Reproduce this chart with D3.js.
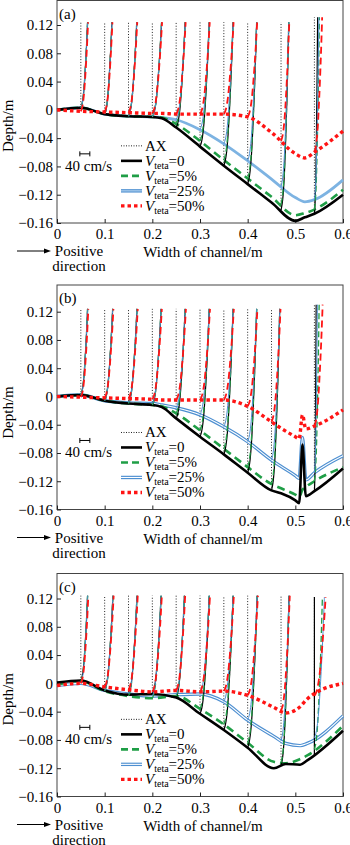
<!DOCTYPE html>
<html>
<head>
<meta charset="utf-8">
<script src="https://cdn.jsdelivr.net/npm/d3@7"></script>
<style>
  body { margin: 0; background: #fff; }
  svg, svg text { font-family: "Liberation Serif", "DejaVu Serif", "Times New Roman", serif; }
  svg { display: block; }
</style>
</head>
<body>
<svg id="chart" width="350" height="845"></svg>
<script>
// ---- data ----
const seriesNames = ['0', '5%', '25%', '50%'];
const xTicks = [0, 0.1, 0.2, 0.3, 0.4, 0.5, 0.6];
const xTickLabels = ['0', '0.1', '0.2', '0.3', '0.4', '0.5', '0.6'];
const yTicks = [-0.16, -0.12, -0.08, -0.04, 0, 0.04, 0.08, 0.12];
const yTickLabels = ['\u22120.16', '\u22120.12', '\u22120.08', '\u22120.04', '0', '0.04', '0.08', '0.12'];

// velocity profile shape (fraction of height above bed -> fraction of top speed)
const profileZ = [0, 0.03, 0.08, 0.18, 0.4, 0.7, 1];
const profileU = [0, 0.14, 0.27, 0.42, 0.62, 0.83, 1];

// panel (a)
const bedXA = [0, 0.05, 0.1, 0.15, 0.2, 0.22, 0.25, 0.3, 0.35, 0.4, 0.45, 0.5, 0.52, 0.54, 0.6];
const bedBlackA = [0, 0.003, -0.006, -0.009, -0.01, -0.012, -0.025, -0.052, -0.079, -0.105, -0.131, -0.157, -0.152, -0.147, -0.12];
const bedGreenA = [0, 0.003, -0.006, -0.009, -0.01, -0.011, -0.02, -0.044, -0.071, -0.097, -0.123, -0.149, -0.146, -0.141, -0.113];
const bedBlueA = [0, 0.003, -0.006, -0.009, -0.01, -0.011, -0.014, -0.028, -0.048, -0.072, -0.098, -0.124, -0.13, -0.127, -0.099];
const bedRedA = [0, -0.002, -0.003, -0.004, -0.005, -0.005, -0.006, -0.006, -0.006, -0.01, -0.032, -0.062, -0.068, -0.06, -0.03];
const stationsA = [0.05, 0.1, 0.15, 0.2, 0.25, 0.3, 0.35, 0.4, 0.47, 0.54];
const profileTopA = [0.124, 0.124, 0.124, 0.124, 0.124, 0.124, 0.124, 0.124, 0.124, 0.131];
const speedBlackA = [27, 29, 33, 37, 36, 37, 37, 36, 31, 13];
const speedGreenA = [27, 29, 33, 37, 36, 37, 37, 36, 31, 20];
const speedBlueA = [27, 29, 33, 37, 36, 37, 37, 36, 31, 18];
const speedRedA = [29, 31, 35, 39, 38, 39, 39, 38, 33, 31];

// panel (b)
const bedXB = [0, 0.05, 0.1, 0.15, 0.2, 0.22, 0.25, 0.3, 0.35, 0.4, 0.45, 0.47, 0.5, 0.508, 0.515, 0.522, 0.54, 0.6];
const bedBlackB = [0, 0.002, -0.006, -0.01, -0.012, -0.015, -0.031, -0.057, -0.082, -0.108, -0.133, -0.137, -0.147, -0.151, -0.068, -0.141, -0.134, -0.102];
const bedGreenB = [0, 0.002, -0.006, -0.01, -0.012, -0.014, -0.024, -0.048, -0.074, -0.1, -0.124, -0.13, -0.139, -0.142, -0.132, -0.128, -0.12, -0.1];
const bedBlueB = [0, 0.002, -0.006, -0.009, -0.01, -0.012, -0.016, -0.026, -0.043, -0.064, -0.09, -0.099, -0.112, -0.116, -0.058, -0.118, -0.108, -0.084];
const bedRedB = [0, -0.001, -0.002, -0.003, -0.004, -0.005, -0.005, -0.005, -0.005, -0.014, -0.036, -0.045, -0.057, -0.06, -0.026, -0.046, -0.042, -0.019];
const stationsB = [0.05, 0.1, 0.15, 0.2, 0.25, 0.3, 0.35, 0.4, 0.45, 0.54];
const profileTopB = [0.124, 0.124, 0.124, 0.124, 0.124, 0.124, 0.124, 0.124, 0.124, 0.13];
const speedBlackB = [27, 32, 34, 35, 36, 37, 37, 36, 33, 7];
const speedGreenB = [27, 32, 34, 35, 36, 37, 37, 36, 33, 19];
const speedBlueB = [27, 32, 34, 35, 36, 37, 37, 36, 33, 12];
const speedRedB = [30, 35, 37, 38, 39, 40, 40, 39, 36, 33];

// panel (c)
const bedXC = [0, 0.05, 0.1, 0.15, 0.2, 0.25, 0.3, 0.35, 0.4, 0.455, 0.48, 0.51, 0.525, 0.6];
const bedBlackC = [0.001, 0.004, -0.01, -0.016, -0.015, -0.02, -0.043, -0.066, -0.091, -0.12, -0.114, -0.115, -0.109, -0.067];
const bedGreenC = [-0.002, 0.003, -0.011, -0.018, -0.021, -0.018, -0.036, -0.058, -0.084, -0.111, -0.113, -0.107, -0.102, -0.06];
const bedBlueC = [-0.003, 0, -0.01, -0.015, -0.018, -0.016, -0.015, -0.026, -0.052, -0.075, -0.085, -0.088, -0.085, -0.046];
const bedRedC = [-0.003, 0, -0.005, -0.009, -0.012, -0.01, -0.012, -0.011, -0.017, -0.034, -0.042, -0.033, -0.022, 0];
const stationsC = [0.05, 0.1, 0.15, 0.2, 0.25, 0.3, 0.35, 0.4, 0.47, 0.54];
const profileTopC = [0.124, 0.124, 0.124, 0.124, 0.124, 0.124, 0.124, 0.124, 0.124, 0.122];
const speedBlackC = [27, 33, 34, 35, 33, 37, 37, 38, 32, 0];
const speedGreenC = [27, 33, 34, 35, 33, 37, 37, 38, 32, 32];
const speedBlueC = [27, 33, 34, 35, 33, 37, 37, 38, 32, 40];
const speedRedC = [30, 36, 37, 38, 36, 40, 40, 41, 35, 45];

const panels = [
  { label: '(a)', bedX: bedXA, beds: [bedBlackA, bedGreenA, bedBlueA, bedRedA], stations: stationsA, tops: profileTopA, speeds: [speedBlackA, speedGreenA, speedBlueA, speedRedA] },
  { label: '(b)', bedX: bedXB, beds: [bedBlackB, bedGreenB, bedBlueB, bedRedB], stations: stationsB, tops: profileTopB, speeds: [speedBlackB, speedGreenB, speedBlueB, speedRedB] },
  { label: '(c)', bedX: bedXC, beds: [bedBlackC, bedGreenC, bedBlueC, bedRedC], stations: stationsC, tops: profileTopC, speeds: [speedBlackC, speedGreenC, speedBlueC, speedRedC] }
];

// ---- layout ----
const FONT = '"Liberation Serif", "DejaVu Serif", "Times New Roman", serif';
const layout = [
  { top: 0.5, y012: 25, bottom: 223, blueDouble: false },
  { top: 285, y012: 311.7, bottom: 509.5, blueDouble: true },
  { top: 573.5, y012: 598.5, bottom: 796.5, blueDouble: true }
];
const green = '#1f9e46', blue = '#4d8fd1', lightBlue = '#7db3e2', red = '#ff1414';

const svg = d3.select('#chart').attr('font-family', FONT);
const x = d3.scaleLinear().domain([0, 0.6]).range([57, 343]);
const vel = d3.scaleLinear().domain([0, 40]).range([0, 10]); // 10 px = 40 cm/s

panels.forEach((p, i) => {
  const L = layout[i];
  const y = d3.scaleLinear().domain([-0.16, 0.12]).range([L.bottom, L.y012]);
  const g = svg.append('g').attr('font-family', FONT);

  g.append('rect')
    .attr('x', x(0)).attr('y', L.top)
    .attr('width', x(0.6) - x(0)).attr('height', L.bottom - L.top)
    .attr('fill', 'none').attr('stroke', '#444').attr('stroke-width', 1);

  const yAxis = g.append('g')
    .attr('transform', `translate(${x(0)},0)`)
    .call(d3.axisLeft(y).tickValues(yTicks).tickSizeInner(-4).tickSizeOuter(0).tickPadding(4)
      .tickFormat((d, k) => yTickLabels[k]));
  const xAxis = g.append('g')
    .attr('transform', `translate(0,${L.bottom})`)
    .call(d3.axisBottom(x).tickValues(xTicks).tickSizeInner(-4).tickSizeOuter(0).tickPadding(5.5)
      .tickFormat((d, k) => xTickLabels[k]));
  [yAxis, xAxis].forEach(a => {
    a.select('.domain').remove();
    a.attr('font-size', 15).attr('font-family', FONT);
    a.selectAll('.tick line').attr('stroke', '#222');
    a.selectAll('.tick text').attr('fill', '#000');
  });

  // AX dotted verticals
  const bedBlack = d3.scaleLinear().domain(p.bedX).range(p.beds[0]);
  g.selectAll('.ax').data(p.stations).enter().append('line')
    .attr('x1', d => x(d)).attr('x2', d => x(d))
    .attr('y1', d => y(bedBlack(d))).attr('y2', (d, k) => y(p.tops[k]))
    .attr('stroke', '#222').attr('stroke-width', 1).attr('stroke-dasharray', '1,1.8');

  const bedLine = d3.line().x((d, k) => x(p.bedX[k])).y(d => y(d)).curve(d3.curveMonotoneX);

  // beds: blue, green, black underneath
  if (L.blueDouble) {
    g.append('path').attr('d', bedLine(p.beds[2])).attr('fill', 'none').attr('stroke', blue).attr('stroke-width', 3.4);
    g.append('path').attr('d', bedLine(p.beds[2])).attr('fill', 'none').attr('stroke', '#fff').attr('stroke-width', 1.1);
  } else {
    g.append('path').attr('d', bedLine(p.beds[2])).attr('fill', 'none').attr('stroke', lightBlue).attr('stroke-width', 2.8);
  }
  g.append('path').attr('d', bedLine(p.beds[1])).attr('fill', 'none')
    .attr('stroke', green).attr('stroke-width', 2.6).attr('stroke-dasharray', '8,5');
  g.append('path').attr('d', bedLine(p.beds[0])).attr('fill', 'none')
    .attr('stroke', '#000').attr('stroke-width', 2.6);

  // velocity profiles
  const profStyles = [
    { stroke: '#000', width: 1.2, dash: null },
    { stroke: green, width: 1.3, dash: '6,3' },
    { stroke: blue, width: 1, dash: null },
    { stroke: red, width: 1.8, dash: '7,4' }
  ];
  const profLine = d3.line().curve(d3.curveCatmullRom);
  profStyles.forEach((st, s) => {
    const bedAt = d3.scaleLinear().domain(p.bedX).range(p.beds[s]);
    p.stations.forEach((sx, k) => {
      const b = bedAt(sx), top = p.tops[k], u = p.speeds[s][k];
      const pts = profileZ.map((f, m) => [x(sx) + vel(u * profileU[m]), y(b + f * (top - b))]);
      g.append('path').attr('d', profLine(pts)).attr('fill', 'none')
        .attr('stroke', st.stroke).attr('stroke-width', st.width)
        .attr('stroke-dasharray', st.dash);
    });
  });

  // red bed on top
  g.append('path').attr('d', bedLine(p.beds[3])).attr('fill', 'none')
    .attr('stroke', red).attr('stroke-width', 3.4).attr('stroke-dasharray', '3.5,3');

  // panel label
  g.append('text').attr('x', 59).attr('y', L.top + 18).attr('font-size', 15).text(p.label);

  // y label
  const y0 = y(0);
  g.append('text')
    .attr('transform', `translate(13,${y0 + 16}) rotate(-90)`)
    .attr('text-anchor', 'middle').attr('font-size', 15).text('Depth/m');

  // velocity scale bar
  const sb = g.append('g').attr('stroke', '#000').attr('stroke-width', 1);
  const bx = x(0.05) - 1, by = y0 + 44;
  sb.append('line').attr('x1', bx).attr('x2', bx + vel(40)).attr('y1', by).attr('y2', by);
  sb.append('line').attr('x1', bx).attr('x2', bx).attr('y1', by - 2.5).attr('y2', by + 2.5);
  sb.append('line').attr('x1', bx + vel(40)).attr('x2', bx + vel(40)).attr('y1', by - 2.5).attr('y2', by + 2.5);
  g.append('text').attr('x', 65).attr('y', y0 + 61).attr('font-size', 15).text('40 cm/s');

  // legend
  const lg = g.append('g').attr('transform', `translate(121,${y0 + 36})`);
  const rows = ['AX'].concat(seriesNames);
  rows.forEach((name, k) => {
    const ry = k * 15;
    if (k === 0) {
      lg.append('line').attr('x1', 0).attr('x2', 21).attr('y1', ry).attr('y2', ry)
        .attr('stroke', '#222').attr('stroke-width', 1).attr('stroke-dasharray', '1,1.5');
    } else if (k === 1) {
      lg.append('line').attr('x1', 0).attr('x2', 21).attr('y1', ry).attr('y2', ry)
        .attr('stroke', '#000').attr('stroke-width', 2.6);
    } else if (k === 2) {
      lg.append('line').attr('x1', 0).attr('x2', 21).attr('y1', ry).attr('y2', ry)
        .attr('stroke', green).attr('stroke-width', 2.6).attr('stroke-dasharray', '7,4');
    } else if (k === 3) {
      lg.append('line').attr('x1', 0).attr('x2', 21).attr('y1', ry).attr('y2', ry)
        .attr('stroke', blue).attr('stroke-width', 3.4);
      lg.append('line').attr('x1', 0).attr('x2', 21).attr('y1', ry).attr('y2', ry)
        .attr('stroke', L.blueDouble ? '#fff' : '#b9d7f1').attr('stroke-width', 1.1);
    } else {
      lg.append('line').attr('x1', 0).attr('x2', 21).attr('y1', ry).attr('y2', ry)
        .attr('stroke', red).attr('stroke-width', 3.4).attr('stroke-dasharray', '3.5,3');
    }
    const t = lg.append('text').attr('x', 24).attr('y', ry + 5).attr('font-size', 15);
    if (k === 0) {
      t.text('AX');
    } else {
      t.append('tspan').attr('font-style', 'italic').text('V');
      t.append('tspan').attr('font-size', 10).attr('dy', 3).text('teta');
      t.append('tspan').attr('dy', -3).text('=' + name);
    }
  });

  // bottom texts
  g.append('text').attr('x', 203).attr('y', L.bottom + 34).attr('text-anchor', 'middle')
    .attr('font-size', 15).text('Width of channel/m');
  g.append('text').attr('x', 79).attr('y', L.bottom + 33).attr('text-anchor', 'middle')
    .attr('font-size', 15).text('Positive');
  g.append('text').attr('x', 79).attr('y', L.bottom + 48).attr('text-anchor', 'middle')
    .attr('font-size', 15).text('direction');
  const ay = L.bottom + 28;
  g.append('line').attr('x1', 17).attr('x2', 46).attr('y1', ay).attr('y2', ay)
    .attr('stroke', '#000').attr('stroke-width', 1);
  g.append('path').attr('d', `M51,${ay} L44,${ay - 2.5} L44,${ay + 2.5} Z`).attr('fill', '#000');
});
</script>
</body>
</html>
